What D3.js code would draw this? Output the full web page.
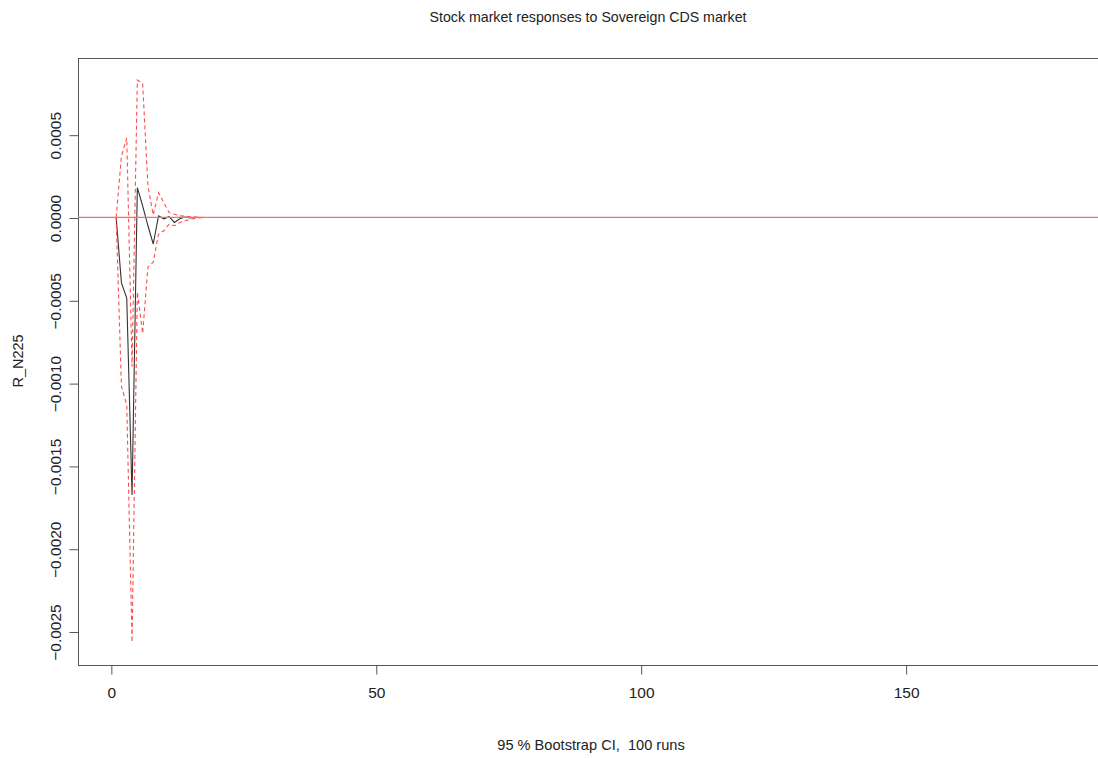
<!DOCTYPE html>
<html>
<head>
<meta charset="utf-8">
<script src="https://cdn.jsdelivr.net/npm/d3@7"></script>
<style>
  body { margin: 0; background: #fff; }
  svg text { font-family: "Liberation Sans", Arial, sans-serif; fill: #222; }
</style>
</head>
<body>
<svg width="1098" height="758"></svg>
<script>
// **** Data: impulse response of R_N225, steps 1..181 ****
var irf = [
    0, -0.000395, -0.000486, -0.001676, 0.000180, 0.000070, -0.000050, -0.000160, 0.000010, -0.000008,
    0.000005, -0.000030, -0.000008, 0.000003, -0.000002, 0.000001, 0, 0, 0, 0,
    0, 0, 0, 0, 0, 0, 0, 0, 0, 0, 0, 0, 0, 0, 0, 0, 0, 0, 0, 0,
    0, 0, 0, 0, 0, 0, 0, 0, 0, 0, 0, 0, 0, 0, 0, 0, 0, 0, 0, 0,
    0, 0, 0, 0, 0, 0, 0, 0, 0, 0, 0, 0, 0, 0, 0, 0, 0, 0, 0, 0,
    0, 0, 0, 0, 0, 0, 0, 0, 0, 0, 0, 0, 0, 0, 0, 0, 0, 0, 0, 0,
    0, 0, 0, 0, 0, 0, 0, 0, 0, 0, 0, 0, 0, 0, 0, 0, 0, 0, 0, 0,
    0, 0, 0, 0, 0, 0, 0, 0, 0, 0, 0, 0, 0, 0, 0, 0, 0, 0, 0, 0,
    0, 0, 0, 0, 0, 0, 0, 0, 0, 0, 0, 0, 0, 0, 0, 0, 0, 0, 0, 0,
    0
];

var upper = [
    0, 0.000370, 0.000480, -0.000900, 0.000830, 0.000810, 0.000190, 0.000015, 0.000150, 0.000090,
    0.000030, 0.000020, 0.000010, 0.000008, 0.000004, 0.000002, 0.000001, 0, 0, 0,
    0, 0, 0, 0, 0, 0, 0, 0, 0, 0, 0, 0, 0, 0, 0, 0, 0, 0, 0, 0,
    0, 0, 0, 0, 0, 0, 0, 0, 0, 0, 0, 0, 0, 0, 0, 0, 0, 0, 0, 0,
    0, 0, 0, 0, 0, 0, 0, 0, 0, 0, 0, 0, 0, 0, 0, 0, 0, 0, 0, 0,
    0, 0, 0, 0, 0, 0, 0, 0, 0, 0, 0, 0, 0, 0, 0, 0, 0, 0, 0, 0,
    0, 0, 0, 0, 0, 0, 0, 0, 0, 0, 0, 0, 0, 0, 0, 0, 0, 0, 0, 0,
    0, 0, 0, 0, 0, 0, 0, 0, 0, 0, 0, 0, 0, 0, 0, 0, 0, 0, 0, 0,
    0, 0, 0, 0, 0, 0, 0, 0, 0, 0, 0, 0, 0, 0, 0, 0, 0, 0, 0, 0,
    0
];

var lower = [
    0, -0.001020, -0.001130, -0.002565, -0.000450, -0.000700, -0.000300, -0.000270, -0.000100, -0.000080,
    -0.000040, -0.000050, -0.000030, -0.000020, -0.000010, -0.000005, -0.000002, 0, 0, 0,
    0, 0, 0, 0, 0, 0, 0, 0, 0, 0, 0, 0, 0, 0, 0, 0, 0, 0, 0, 0,
    0, 0, 0, 0, 0, 0, 0, 0, 0, 0, 0, 0, 0, 0, 0, 0, 0, 0, 0, 0,
    0, 0, 0, 0, 0, 0, 0, 0, 0, 0, 0, 0, 0, 0, 0, 0, 0, 0, 0, 0,
    0, 0, 0, 0, 0, 0, 0, 0, 0, 0, 0, 0, 0, 0, 0, 0, 0, 0, 0, 0,
    0, 0, 0, 0, 0, 0, 0, 0, 0, 0, 0, 0, 0, 0, 0, 0, 0, 0, 0, 0,
    0, 0, 0, 0, 0, 0, 0, 0, 0, 0, 0, 0, 0, 0, 0, 0, 0, 0, 0, 0,
    0, 0, 0, 0, 0, 0, 0, 0, 0, 0, 0, 0, 0, 0, 0, 0, 0, 0, 0, 0,
    0
];

var xTicks = [0, 50, 100, 150];
var yTicks = [0.0005, 0.0000, -0.0005, -0.0010, -0.0015, -0.0020, -0.0025];

// **** Scales and axes ****
var xScale = d3.scaleLinear()
    .domain([-6.2, 188.2]).range([78, 1108]);

var yScale = d3.scaleLinear()
    .domain([-0.002702, 0.000963]).range([665, 58]);

var svg = d3.select('svg');

svg.append('rect')
    .attr('x', xScale(-6.2) + 0.5).attr('y', yScale(0.000963) + 0.5)
    .attr('width', xScale(188.2) - xScale(-6.2)).attr('height', yScale(-0.002702) - yScale(0.000963))
    .attr('fill', 'none').attr('stroke', '#555').attr('stroke-width', 1);

var xAxis = svg.append('g').attr('class', 'x axis')
    .attr('transform', 'translate(0.5,' + (yScale(-0.002702) + 0.5) + ')')
    .call(d3.axisBottom(xScale).tickValues(xTicks).tickSize(9).tickSizeOuter(0).tickPadding(12)
        .tickFormat(function (d) { return d; }));
xAxis.select('.domain')
    .attr('d', 'M' + xScale(0) + ',0H' + xScale(150));

var yAxis = svg.append('g').attr('class', 'y axis')
    .attr('transform', 'translate(' + (xScale(-6.2) + 0.5) + ',0.5)')
    .call(d3.axisLeft(yScale).tickValues(yTicks).tickSize(9).tickSizeOuter(0)
        .tickFormat(d3.format('.4f')));
yAxis.select('.domain')
    .attr('d', 'M0,' + yScale(0.0005) + 'V' + yScale(-0.0025));
yAxis.selectAll('text')
    .attr('x', 0).attr('dy', 0)
    .attr('text-anchor', 'middle')
    .attr('transform', 'translate(-17.5,0) rotate(-90)');

svg.selectAll('.axis .domain, .axis line').attr('stroke', '#555');
svg.selectAll('.axis text').attr('font-size', 15.5).attr('fill', '#222');

// **** Titles ****
svg.append('text')
    .attr('x', 588).attr('y', 22)
    .attr('text-anchor', 'middle').attr('font-size', 14.2)
    .text('Stock market responses to Sovereign CDS market');

svg.append('text')
    .attr('x', 591).attr('y', 750)
    .attr('text-anchor', 'middle').attr('font-size', 14.6)
    .attr('xml:space', 'preserve')
    .text('95 % Bootstrap CI,  100 runs');

svg.append('text')
    .attr('transform', 'translate(23, 361) rotate(-90)')
    .attr('text-anchor', 'middle').attr('font-size', 14.5)
    .text('R_N225');

// **** Lines ****
svg.append('clipPath').attr('id', 'plot-clip')
    .append('rect').attr('x', 78).attr('y', 58).attr('width', 1030).attr('height', 607);

var line = d3.line()
    .x(function (d, i) { return xScale(i + 1); })
    .y(function (d) { return yScale(d); });

var plot = svg.append('g').attr('clip-path', 'url(#plot-clip)');

plot.append('path').datum(irf)
    .attr('d', line).attr('fill', 'none')
    .attr('stroke', '#333').attr('stroke-width', 1.1);

[upper, lower].forEach(function (band) {
    plot.append('path').datum(band)
        .attr('d', line).attr('fill', 'none')
        .attr('stroke', '#ff4d4d').attr('stroke-width', 1.1)
        .attr('stroke-dasharray', '4,3');
});

// zero line on top, as abline(h = 0, col = "red")
plot.append('path')
    .attr('d', 'M78,' + yScale(0) + 'H1108')
    .attr('fill', 'none')
    .attr('stroke', '#ff6b6b').attr('stroke-width', 1.25);
</script>
</body>
</html>
